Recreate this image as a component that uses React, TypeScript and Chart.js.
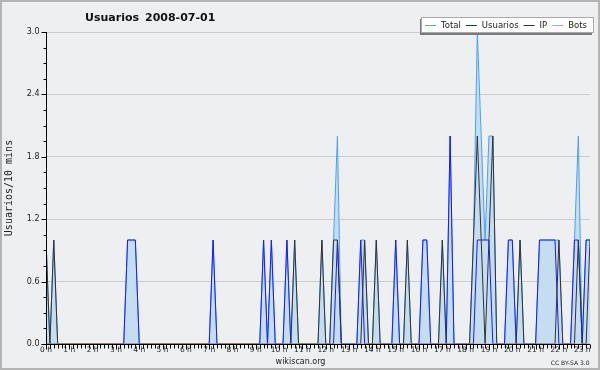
import React, { useEffect, useRef } from "react";
import { Chart, registerables } from "chart.js";

Chart.register(...registerables);

// ---- texts ----
const chartTitle = "Usuarios";
const chartDate = "2008-07-01";
const yAxisTitle = "Usuarios/10 mins";
const footerSite = "wikiscan.org";
const footerLicense = "CC BY-SA 3.0";

// ---- axes ----
const hourLabels = [
  "0 h", "1 h", "2 h", "3 h", "4 h", "5 h", "6 h", "7 h", "8 h", "9 h", "10 h", "11 h",
  "12 h", "13 h", "14 h", "15 h", "16 h", "17 h", "18 h", "19 h", "20 h", "21 h", "22 h", "23 h",
];
const slotsPerHour = 6; // 10-minute slots
const lastSlot = 140;
const yTickValues = [0, 0.6, 1.2, 1.8, 2.4, 3.0];
const yMax = 3.0;

// ---- series (one value per 10 minutes, rows = hours) ----
const seriesLabels = ["Total", "Usuarios", "IP", "Bots"];

const seriesTotal = [
  1, 0, 1, 0, 0, 0, // 0 h
  0, 0, 0, 0, 0, 0, // 1 h
  0, 0, 0, 0, 0, 0, // 2 h
  0, 0, 0, 1, 1, 1, // 3 h
  0, 0, 0, 0, 0, 0, // 4 h
  0, 0, 0, 0, 0, 0, // 5 h
  0, 0, 0, 0, 0, 0, // 6 h
  0, 1, 0, 0, 0, 0, // 7 h
  0, 0, 0, 0, 0, 0, // 8 h
  0, 0, 1, 0, 1, 0, // 9 h
  0, 0, 1, 0, 1, 0, // 10 h
  0, 0, 0, 0, 0, 1, // 11 h
  0, 0, 1, 2, 0, 0, // 12 h
  0, 0, 0, 1, 1, 0, // 13 h
  0, 1, 0, 0, 0, 0, // 14 h
  1, 0, 0, 1, 0, 0, // 15 h
  0, 1, 1, 0, 0, 0, // 16 h
  1, 0, 2, 0, 0, 0, // 17 h
  0, 0, 1, 3, 2, 1, // 18 h
  2, 2, 0, 0, 0, 1, // 19 h
  1, 0, 1, 0, 0, 0, // 20 h
  0, 1, 1, 1, 1, 1, // 21 h
  1, 0, 0, 0, 1, 2, // 22 h
  0, 1, 1,          // 23 h
];

const seriesUsuarios = [
  0, 0, 0, 0, 0, 0, // 0 h
  0, 0, 0, 0, 0, 0, // 1 h
  0, 0, 0, 0, 0, 0, // 2 h
  0, 0, 0, 1, 1, 1, // 3 h
  0, 0, 0, 0, 0, 0, // 4 h
  0, 0, 0, 0, 0, 0, // 5 h
  0, 0, 0, 0, 0, 0, // 6 h
  0, 1, 0, 0, 0, 0, // 7 h
  0, 0, 0, 0, 0, 0, // 8 h
  0, 0, 1, 0, 1, 0, // 9 h
  0, 0, 1, 0, 0, 0, // 10 h
  0, 0, 0, 0, 0, 0, // 11 h
  0, 0, 0, 1, 0, 0, // 12 h
  0, 0, 0, 1, 0, 0, // 13 h
  0, 0, 0, 0, 0, 0, // 14 h
  1, 0, 0, 0, 0, 0, // 15 h
  0, 1, 1, 0, 0, 0, // 16 h
  0, 0, 2, 0, 0, 0, // 17 h
  0, 0, 0, 1, 1, 1, // 18 h
  1, 0, 0, 0, 0, 1, // 19 h
  1, 0, 0, 0, 0, 0, // 20 h
  0, 1, 1, 1, 1, 1, // 21 h
  0, 0, 0, 0, 1, 1, // 22 h
  0, 1, 1,          // 23 h
];

const seriesIP = [
  1, 0, 1, 0, 0, 0, // 0 h
  0, 0, 0, 0, 0, 0, // 1 h
  0, 0, 0, 0, 0, 0, // 2 h
  0, 0, 0, 0, 0, 0, // 3 h
  0, 0, 0, 0, 0, 0, // 4 h
  0, 0, 0, 0, 0, 0, // 5 h
  0, 0, 0, 0, 0, 0, // 6 h
  0, 0, 0, 0, 0, 0, // 7 h
  0, 0, 0, 0, 0, 0, // 8 h
  0, 0, 0, 0, 0, 0, // 9 h
  0, 0, 0, 0, 1, 0, // 10 h
  0, 0, 0, 0, 0, 1, // 11 h
  0, 0, 1, 1, 0, 0, // 12 h
  0, 0, 0, 0, 1, 0, // 13 h
  0, 1, 0, 0, 0, 0, // 14 h
  0, 0, 0, 1, 0, 0, // 15 h
  0, 0, 0, 0, 0, 0, // 16 h
  1, 0, 0, 0, 0, 0, // 17 h
  0, 0, 1, 2, 1, 0, // 18 h
  1, 2, 0, 0, 0, 0, // 19 h
  0, 0, 1, 0, 0, 0, // 20 h
  0, 0, 0, 0, 0, 0, // 21 h
  1, 0, 0, 0, 0, 1, // 22 h
  0, 0, 1,          // 23 h
];

const seriesBots = [
  0, 0, 0, 0, 0, 0, 0, 0, 0, 0, 0, 0, 0, 0, 0, 0, 0, 0, 0, 0, 0, 0, 0, 0,
  0, 0, 0, 0, 0, 0, 0, 0, 0, 0, 0, 0, 0, 0, 0, 0, 0, 0, 0, 0, 0, 0, 0, 0,
  0, 0, 0, 0, 0, 0, 0, 0, 0, 0, 0, 0, 0, 0, 0, 0, 0, 0, 0, 0, 0, 0, 0, 0,
  0, 0, 0, 0, 0, 0, 0, 0, 0, 0, 0, 0, 0, 0, 0, 0, 0, 0, 0, 0, 0, 0, 0, 0,
  0, 0, 0, 0, 0, 0, 0, 0, 0, 0, 0, 0, 0, 0, 0, 0, 0, 0, 0, 0, 0, 0, 0, 0,
  0, 0, 0, 0, 0, 0, 0, 0, 0, 0, 0, 0, 0, 0, 0, 0, 0, 0, 0, 0, 0,
];

// ---- styles ----
const BG = "#eeeff1";
const GRID = "#cccccc";
const TEXT = "#222222";
const COL_TOTAL = "#4aa2f0";
const COL_TOTAL_FILL = "#c5ddf1";
const COL_USU = "#1a1aff";
const COL_IP = "#333333";
const COL_BOTS = "#ffa31a";
const seriesColors = [COL_TOTAL, COL_USU, COL_IP, COL_BOTS];

const toPoints = (arr: number[]) => arr.map((v, i) => ({ x: i, y: v }));

const decorPlugin = {
  id: "wikiscanDecor",
  beforeDraw(chart: any) {
    const ctx = chart.ctx;
    ctx.save();
    ctx.fillStyle = BG;
    ctx.fillRect(0, 0, chart.width, chart.height);
    ctx.restore();
  },
  afterDatasetsDraw(chart: any) {
    const { ctx, chartArea: ca, scales } = chart;
    const xs = scales.x;
    const ys = scales.y;
    const L = Math.round(ca.left) + 0.5;
    const B = Math.round(ca.bottom) + 0.5;
    ctx.save();
    ctx.strokeStyle = "#000";
    ctx.lineWidth = 1;
    ctx.beginPath();
    ctx.moveTo(L, Math.round(ca.top));
    ctx.lineTo(L, B);
    ctx.moveTo(L - 5, B);
    ctx.lineTo(Math.round(ca.right), B);
    const minorY = 0.15;
    const nY = Math.round(yMax / minorY);
    for (let k = 0; k <= nY; k++) {
      const y = Math.round(ys.getPixelForValue(k * minorY)) + 0.5;
      const len = k % 4 === 0 ? 5 : 3;
      ctx.moveTo(L - len, y);
      ctx.lineTo(L, y);
    }
    for (let i = 0; i <= lastSlot; i++) {
      const x = Math.round(xs.getPixelForValue(i)) + 0.5;
      const len = i % slotsPerHour === 0 ? 5 : 4;
      ctx.moveTo(x, B);
      ctx.lineTo(x, B + len);
    }
    ctx.stroke();
    ctx.restore();
  },
  afterDraw(chart: any) {
    const ctx = chart.ctx;
    ctx.save();
    // title
    ctx.fillStyle = "#111";
    ctx.textBaseline = "alphabetic";
    ctx.textAlign = "left";
    ctx.font = "bold 11px 'DejaVu Sans'";
    ctx.fillText(chartTitle, 85, 21);
    ctx.fillText(chartDate, 145, 21);

    // y axis title
    ctx.save();
    ctx.translate(9.5, 188);
    ctx.rotate(-Math.PI / 2);
    ctx.font = "10px 'DejaVu Sans Mono'";
    ctx.textAlign = "center";
    ctx.textBaseline = "middle";
    ctx.fillStyle = TEXT;
    ctx.fillText(yAxisTitle, 0, 0);
    ctx.restore();

    // legend box
    ctx.fillStyle = "#7a7a7a";
    ctx.fillRect(420, 19, 172, 16);
    ctx.fillStyle = "#ffffff";
    ctx.fillRect(422, 18, 171, 14);
    ctx.strokeStyle = "#aaaaaa";
    ctx.lineWidth = 1;
    ctx.strokeRect(421.5, 17.5, 172, 15);
    ctx.font = "8.5px 'DejaVu Sans'";
    ctx.textBaseline = "middle";
    ctx.textAlign = "left";
    let lx = 425;
    const cy = 25;
    chart.data.datasets.forEach((ds: any, idx: number) => {
      ctx.fillStyle = seriesColors[idx];
      ctx.fillRect(lx, cy, 11, 1);
      ctx.fillStyle = TEXT;
      ctx.fillText(ds.label, lx + 16, cy + 0.5);
      lx += 16 + ctx.measureText(ds.label).width + 5;
    });

    // footer
    ctx.fillStyle = TEXT;
    ctx.textBaseline = "alphabetic";
    ctx.textAlign = "center";
    ctx.font = "8px 'DejaVu Sans'";
    ctx.fillText(footerSite, 300.5, 364);
    ctx.textAlign = "right";
    ctx.font = "6px 'DejaVu Sans'";
    ctx.fillText(footerLicense, 589.5, 364.5);

    // outer border
    ctx.strokeStyle = "#b4b4b4";
    ctx.lineWidth = 2;
    ctx.strokeRect(1, 1, chart.width - 2, chart.height - 2);
    ctx.restore();
  },
};

export default function App() {
  const ref = useRef<HTMLCanvasElement | null>(null);

  useEffect(() => {
    document.body.style.margin = "0";
    const canvas = ref.current;
    if (!canvas) return;
    const mk = (idx: number, arr: number[], order: number, fill: any) => ({
      label: seriesLabels[idx],
      data: toPoints(arr),
      borderColor: seriesColors[idx],
      backgroundColor: idx === 0 ? COL_TOTAL_FILL : seriesColors[idx],
      fill,
      borderWidth: 1,
      pointRadius: 0,
      tension: 0,
      order,
    });
    const chart = new Chart(canvas, {
      type: "line",
      data: {
        datasets: [
          mk(0, seriesTotal, 4, "origin"),
          mk(1, seriesUsuarios, 3, false),
          mk(2, seriesIP, 2, false),
          mk(3, seriesBots, 1, false),
        ],
      },
      options: {
        animation: false,
        responsive: false,
        devicePixelRatio: 1,
        layout: { padding: { top: 32, right: 10, left: 0, bottom: 0 } },
        plugins: {
          legend: { display: false },
          tooltip: { enabled: false },
          title: { display: false },
        },
        scales: {
          x: {
            type: "linear",
            min: 0,
            max: lastSlot,
            offset: false,
            grid: { display: false, drawTicks: false },
            border: { display: false },
            afterFit: (s: any) => {
              s.height = 26;
            },
            afterBuildTicks: (s: any) => {
              s.ticks = hourLabels.map((_, h) => ({ value: h * slotsPerHour }));
            },
            ticks: {
              autoSkip: false,
              maxRotation: 0,
              padding: 1.5,
              color: TEXT,
              font: { family: "'DejaVu Sans'", size: 7.5 },
              callback: (v: any) => hourLabels[Math.round(Number(v) / slotsPerHour)],
            },
          },
          y: {
            type: "linear",
            min: 0,
            max: yMax,
            grid: { color: GRID, lineWidth: 1, drawTicks: false },
            border: { display: false },
            afterFit: (s: any) => {
              s.width = 46;
            },
            afterBuildTicks: (s: any) => {
              s.ticks = yTickValues.map((v) => ({ value: v }));
            },
            ticks: {
              padding: 6.5,
              color: TEXT,
              font: { family: "'DejaVu Sans'", size: 8 },
              callback: (v: any) => Number(v).toFixed(1),
            },
          },
        },
      },
      plugins: [decorPlugin],
    } as any);
    return () => chart.destroy();
  }, []);

  return <canvas ref={ref} width={600} height={370} style={{ display: "block", width: 600, height: 370 }} />;
}
